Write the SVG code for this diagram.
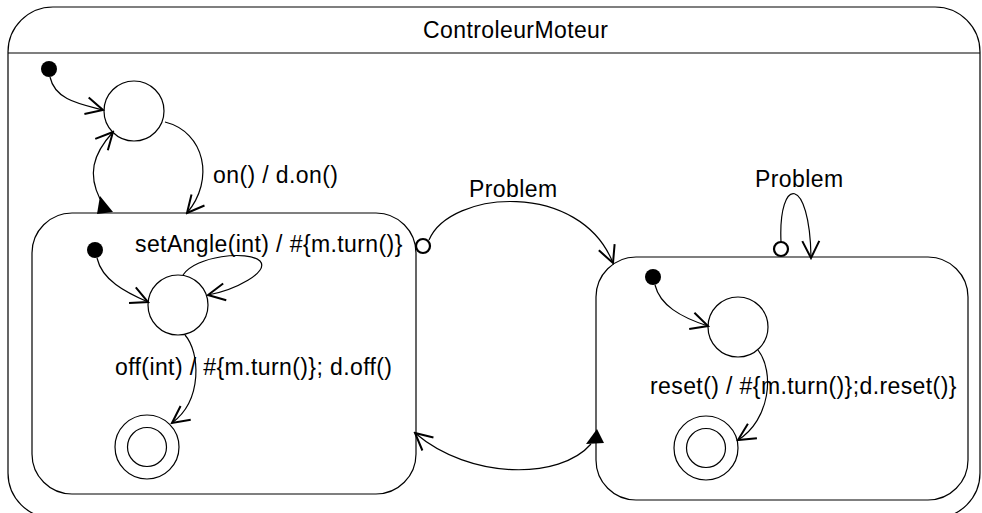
<svg xmlns="http://www.w3.org/2000/svg" width="982" height="513" viewBox="0 0 982 513">
<style>
.box{fill:#fff;stroke:#000;stroke-width:1.2}
.st{fill:#fff;stroke:#000;stroke-width:1.2}
.dot{fill:#000}
.edge{fill:none;stroke:#000;stroke-width:1.2}
.src{fill:#fff;stroke:#000;stroke-width:2.2}
.tri{fill:#000}
text{font-family:"Liberation Sans",Arial,sans-serif;font-size:23px;letter-spacing:0.4px;fill:#000}
</style>
<defs>
<marker id="arrow" markerUnits="userSpaceOnUse" viewBox="-20 -11 22 22" refX="0" refY="0" markerWidth="22" markerHeight="22" orient="auto">
<path d="M-17,-8.5 L0,0 L-17,8.5" fill="none" stroke="#000" stroke-width="2"/>
</marker>
</defs>
<g id="ControleurMoteur">
<rect class="box" x="8" y="7" width="972" height="511" rx="45" ry="45"/>
<line x1="8" y1="53" x2="980" y2="53" stroke="#000" stroke-width="1.2"/>
<text x="423" y="38">ControleurMoteur</text>
</g>
<g id="init1"><circle class="dot" cx="49" cy="69" r="8"/></g>
<g id="stateA"><circle class="st" cx="134" cy="111" r="30"/></g>
<g id="composite1">
<rect class="box" x="32" y="213" width="384" height="281" rx="40" ry="40"/>
</g>
<g id="init2"><circle class="dot" cx="95" cy="250" r="8"/></g>
<g id="stateB"><circle class="st" cx="178" cy="305" r="30"/></g>
<g id="final1"><circle class="st" cx="147" cy="447" r="32"/><circle class="st" cx="147" cy="447" r="19.5"/></g>
<g id="composite2">
<rect class="box" x="596" y="257" width="372" height="243" rx="40" ry="40"/>
</g>
<g id="init3"><circle class="dot" cx="653" cy="277" r="8"/></g>
<g id="stateC"><circle class="st" cx="738" cy="327" r="30"/></g>
<g id="final2"><circle class="st" cx="706" cy="448" r="32"/><circle class="st" cx="706" cy="448" r="19.5"/></g>
<g id="connectors">
<path class="edge" d="M50,77 C55,100 80,104 103,110" marker-end="url(#arrow)"/>
<path class="edge" d="M165,122 C205,132 215,180 187,213" marker-end="url(#arrow)"/>
<text x="213" y="183">on() / d.on()</text>
<path class="edge" d="M100,199 C88,175 92,155 113,132" marker-end="url(#arrow)"/>
<polygon class="tri" points="100,196 97,214 113,212"/>
<path class="edge" d="M97,258 C102,280 125,292 148,302" marker-end="url(#arrow)"/>
<path class="edge" d="M183,275 C195,256 248,250 260,261 C270,272 235,290 208,295" marker-end="url(#arrow)"/>
<text x="135" y="252">setAngle(int) / #{m.turn()}</text>
<path class="edge" d="M185,335 C200,352 203,400 172,423" marker-end="url(#arrow)"/>
<text x="115" y="375">off(int) / #{m.turn()}; d.off()</text>
<path class="edge" d="M429,240 C450,190 580,180 613,263" marker-end="url(#arrow)"/>
<circle class="src" cx="423" cy="246" r="7"/>
<text x="469" y="197">Problem</text>
<path class="edge" d="M781,242 C778,175 810,175 811,258" marker-end="url(#arrow)"/>
<circle class="src" cx="781" cy="249" r="7"/>
<text x="755" y="187">Problem</text>
<path class="edge" d="M655,285 C660,305 680,317 708,326" marker-end="url(#arrow)"/>
<path class="edge" d="M758,350 C775,372 770,420 738,440" marker-end="url(#arrow)"/>
<text x="650" y="394">reset() / #{m.turn()};d.reset()}</text>
<path class="edge" d="M591,444 C560,480 470,480 415,433" marker-end="url(#arrow)"/>
<polygon class="tri" points="597,429 586,444 604,443"/>
</g>
</svg>
